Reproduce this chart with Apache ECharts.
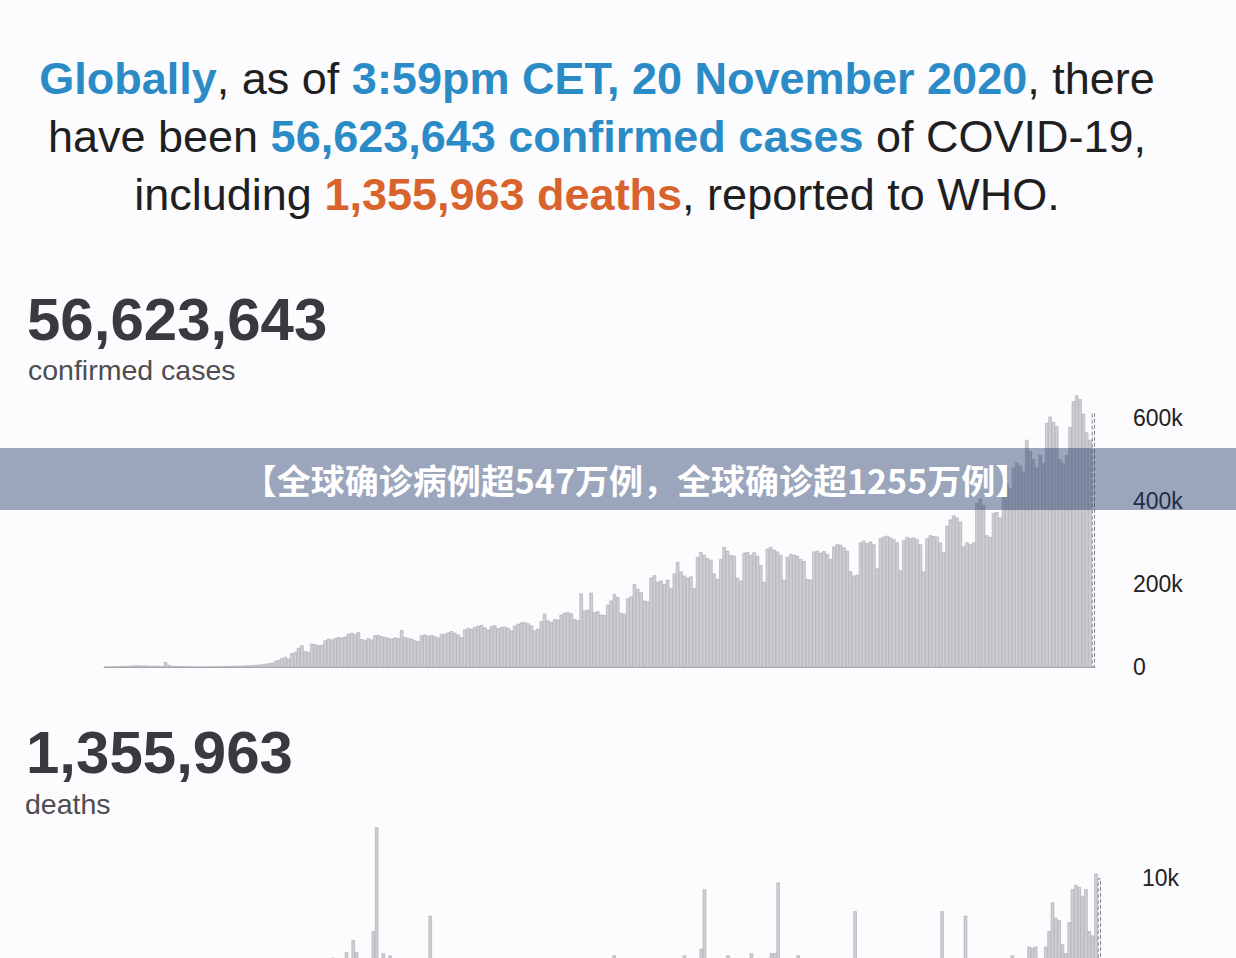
<!DOCTYPE html>
<html>
<head>
<meta charset="utf-8">
<script src="https://cdn.jsdelivr.net/npm/echarts@6/dist/echarts.min.js"></script>
<style>
html,body{margin:0;padding:0;background:#fcfbfd;overflow:hidden;width:1236px;height:958px}
#c{width:1236px;height:1110px}
</style>
</head>
<body>
<div id="c"></div>
<script>
// Daily confirmed cases (thousands), one value per day, ending 20 Nov 2020
const casesK = [
  0.5,0.7,1.2,1.7,2.0,2.1,2.6,2.8,3.2,3.9,3.7,3.2,3.4,2.7,3.0,2.6,2.4,2.0,
  12,5.1,
  2.6,2.1,2.0,1.9,1.8,1.0,1.1,0.7,0.6,0.6,0.9,0.8,1.0,1.2,1.5,1.5,1.8,2.0,
  2.3,2.6,2.9,3.1,3.4,3.9,4.4,4.8,5.5,6.3,7.4,8.6,9.8,
  14,17,21,24,20,33,36,46,52,38,36,
  56,55,52,53,64,68,66,69,72,71,73,
  80,82,79,84,67,65,69,66,76,77,74,72,
  70,68,71,69,89,72,70,68,64,62,76,78,75,77,74,71,
  79,80,83,86,82,78,72,90,94,92,96,99,101,95,90,98,100,93,96,
  97,94,88,99,104,107,108,105,100,88,92,110,128,112,108,115,114,126,130,132,129,115,113,177,136,138,179,132,134,126,
  125,150,160,176,168,130,128,165,170,200,188,180,160,158,215,221,205,208,200,210,190,225,253,230,220,215,218,190,
  265,277,270,262,258,225,212,260,289,280,270,268,215,208,275,277,270,276,268,245,205,285,289,282,278,270,210,
  265,272,270,268,260,255,212,210,278,280,275,279,272,260,290,296,294,288,280,230,220,222,300,304,298,302,295,237,
  310,314,316,312,308,300,233,305,313,310,312,308,295,230,310,317,315,314,300,277,340,355,365,360,350,290,300,295,300,395,405,390,317,313,
  371,373,360,434,440,430,480,492,485,470,547,520,500,480,510,490,588,603,590,580,500,490,510,578,640,654,645,610,565,547,612
];
// Daily deaths (thousands)
const deathsK = [
  0.03,0.04,0.04,0.05,0.06,0.06,0.07,0.07,0.07,0.09,0.09,0.10,0.10,0.09,0.10,0.11,0.12,0.12,
  0.25,0.14,0.14,0.14,0.10,0.12,0.10,0.14,0.15,0.10,0.07,0.05,0.06,0.05,0.06,0.08,0.05,0.06,0.08,0.10,
  0.11,0.12,0.15,0.19,0.23,0.26,0.34,0.37,0.52,0.68,0.73,0.86,1.05,1.27,1.52,1.68,1.97,2.21,2.57,2.82,3.29,3.58,
  3.45,3.95,4.50,4.99,5.20,5.61,5.43,5.66,6.40,5.95,5.70,5.82,6.65,6.05,7.20,6.65,5.90,6.10,5.70,5.95,7.60,12.30,6.15,6.60,5.90,6.50,
  6.05,5.80,5.60,5.40,6.10,6.20,5.75,5.30,5.10,4.95,5.60,8.30,5.90,5.45,5.20,4.80,4.60,5.50,5.70,5.30,4.90,4.20,3.90,4.70,5.40,
  5.20,4.60,4.30,3.80,3.60,4.70,5.10,4.90,4.50,4.10,3.40,3.20,4.80,5.10,4.90,4.40,4.20,3.30,3.10,4.70,
  5.20,5.00,4.60,4.40,3.50,3.30,5.10,5.40,5.20,5.00,4.50,3.70,3.50,5.30,5.50,5.60,5.10,4.60,3.80,3.70,
  5.90,6.50,5.80,5.10,4.20,4.00,5.70,6.00,5.90,5.50,4.90,4.30,4.10,5.80,6.10,6.00,5.60,5.20,4.40,4.10,5.90,6.20,
  6.50,5.90,5.40,4.60,4.30,6.80,9.50,6.10,5.80,5.50,4.80,4.50,6.00,6.50,6.20,5.90,5.40,4.90,4.60,6.10,6.60,6.20,5.70,5.10,4.80,6.00,6.60,6.60,9.80,6.00,5.60,4.90,4.60,6.10,6.50,
  6.20,5.80,5.40,4.70,4.40,6.00,6.20,6.10,5.60,5.20,4.50,4.20,5.90,6.20,6.00,5.50,8.50,5.10,4.40,4.20,5.80,6.10,6.00,5.50,4.90,4.30,4.00,5.70,6.10,5.90,5.40,4.80,4.10,3.90,5.60,6.00,5.80,5.30,4.70,4.00,3.80,5.90,8.50,
  6.10,5.40,4.60,4.20,5.90,6.20,8.30,5.90,5.50,4.70,4.40,6.10,6.30,6.20,5.90,5.20,4.80,6.20,6.30,6.20,
  6.50,6.10,5.40,5.10,6.30,6.90,6.85,6.90,6.30,5.70,6.90,7.60,8.90,8.20,8.10,7.00,6.60,8.00,9.50,9.70,9.60,9.20,9.50,7.60,7.40,10.20,10.00
];
const casesTicks = [0, 200, 400, 600];   // k, labelled ticks
const deathsTicks = [10];                // k, the only tick label inside the visible area
const headline = [
  [['b','Globally'],['n',', as of '],['b','3:59pm CET, 20 November 2020'],['n',', there']],
  [['n','have been '],['b','56,623,643 confirmed cases'],['n',' of COVID-19,']],
  [['n','including '],['o','1,355,963 deaths'],['n',', reported to WHO.']]
];
const totalCases = '56,623,643';
const totalDeaths = '1,355,963';
const bannerText = '【全球确诊病例超547万例，全球确诊超1255万例】';

// category dates (last day = 20 Nov 2020)
const endDate = new Date(Date.UTC(2020, 10, 20));
const dates = casesK.map((_, i) => {
  const d = new Date(endDate.getTime() - (casesK.length - 1 - i) * 86400000);
  return d.toISOString().slice(0, 10);
});

const FONT = '"Liberation Sans", Arial, Helvetica, sans-serif';
const CJK = '"Noto Sans CJK SC", "Noto Sans", sans-serif';

function barData(arr) {
  return arr.map((v, i) => i === arr.length - 1
    ? { value: v, itemStyle: { color: 'rgba(0,0,0,0)', borderColor: '#85848b', borderType: 'dashed', borderWidth: 1 } }
    : v);
}

const rich = {
  b: { fontSize: 45, fontWeight: 'bold', color: '#2b8bc6', fontFamily: FONT, lineHeight: 50 },
  o: { fontSize: 45, fontWeight: 'bold', color: '#d8632c', fontFamily: FONT, lineHeight: 50 },
  n: { fontSize: 45, fontWeight: 'normal', color: '#1f1f22', fontFamily: FONT, lineHeight: 50 }
};
const headTitles = headline.map((parts, k) => ({
  text: parts.map(p => '{' + p[0] + '|' + p[1] + '}').join(''),
  left: 597, top: 53 + k * 58, textAlign: 'center', padding: 0,
  textStyle: { rich: rich }
}));

const chart = echarts.init(document.getElementById('c'), null, { renderer: 'svg', width: 1236, height: 1110 });

const axisLabelBase = { fontSize: 23, color: '#222', fontFamily: FONT, showMaxLabel: false };

chart.setOption({
  backgroundColor: '#fcfbfd',
  animation: false,
  title: headTitles.concat([
    { text: totalCases, left: 27, top: 287, padding: 0,
      textStyle: { fontSize: 60, fontWeight: 'bold', color: '#3a3940', fontFamily: FONT, lineHeight: 64 } },
    { text: 'confirmed cases', left: 28, top: 354, padding: 0,
      textStyle: { fontSize: 28.5, fontWeight: 'normal', color: '#4d4d52', fontFamily: FONT, lineHeight: 32 } },
    { text: totalDeaths, left: 26, top: 720, padding: 0,
      textStyle: { fontSize: 60, fontWeight: 'bold', color: '#3a3940', fontFamily: FONT, lineHeight: 64 } },
    { text: 'deaths', left: 25, top: 788, padding: 0,
      textStyle: { fontSize: 28.5, fontWeight: 'normal', color: '#4d4d52', fontFamily: FONT, lineHeight: 32 } },
    { text: bannerText, left: 636, top: 459, textAlign: 'center', padding: 0, z: 30,
      textStyle: { fontSize: 34, fontWeight: 'bold', color: '#ffffff', fontFamily: CJK, lineHeight: 40 } }
  ]),
  graphic: [
    { type: 'rect', z: 20, shape: { x: 0, y: 448, width: 1236, height: 62 },
      style: { fill: 'rgba(38,60,108,0.45)' } }
  ],
  grid: [
    { left: 104, width: 991, top: 393, height: 274 },
    { left: 104, width: 997, top: 823, height: 276 }
  ],
  xAxis: [0, 1].map(g => ({
    type: 'category', gridIndex: g, data: dates, boundaryGap: true,
    axisTick: { show: false }, axisLabel: { show: false },
    axisLine: { lineStyle: { color: '#a9a8ad', width: 1 } }
  })),
  yAxis: [
    { type: 'value', gridIndex: 0, position: 'right', min: 0, max: 660, interval: 200,
      splitLine: { show: false }, axisLine: { show: false }, axisTick: { show: false },
      axisLabel: Object.assign({ margin: 38, formatter: v => casesTicks.includes(v) ? (v === 0 ? '0' : v + 'k') : '' }, axisLabelBase) },
    { type: 'value', gridIndex: 1, position: 'right', min: 0, max: 12.5, interval: 5,
      splitLine: { show: false }, axisLine: { show: false }, axisTick: { show: false },
      axisLabel: Object.assign({ margin: 41, formatter: v => deathsTicks.includes(v) ? (v === 0 ? '0' : v + 'k') : '' }, axisLabelBase) }
  ],
  series: [
    { type: 'bar', xAxisIndex: 0, yAxisIndex: 0, data: barData(casesK), barCategoryGap: '0%',
      itemStyle: { color: '#cfced3', borderColor: '#a09fa5', borderWidth: 0.5 } },
    { type: 'bar', xAxisIndex: 1, yAxisIndex: 1, data: barData(deathsK), barCategoryGap: '0%',
      itemStyle: { color: '#cfced3', borderColor: '#a09fa5', borderWidth: 0.5 } }
  ]
});
</script>
</body>
</html>
